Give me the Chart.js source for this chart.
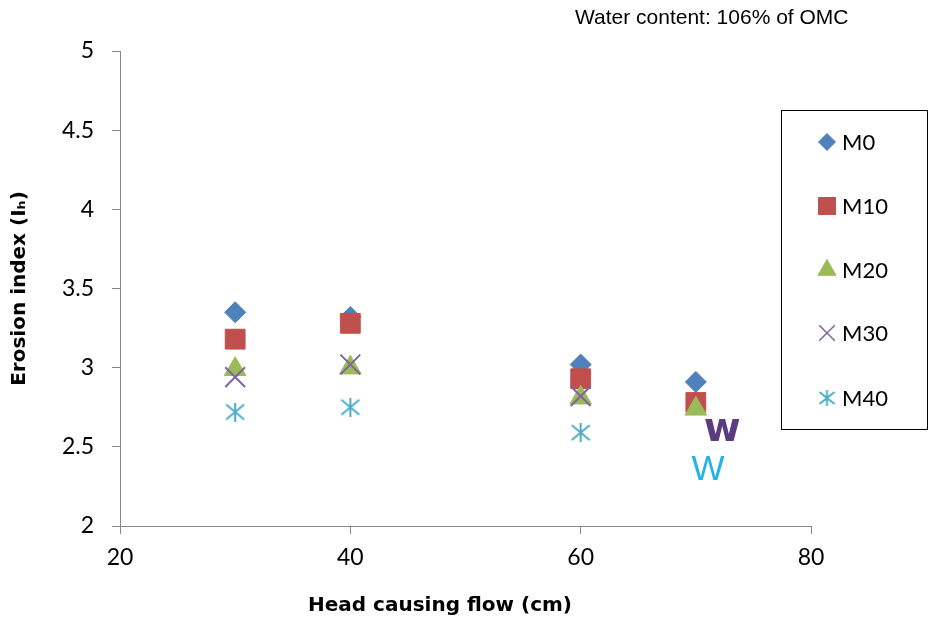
<!DOCTYPE html>
<html>
<head>
<meta charset="utf-8">
<script src="https://cdn.jsdelivr.net/npm/chart.js@4/dist/chart.umd.min.js"></script>
<style>
  html, body { margin: 0; padding: 0; background: #fff; }
  #wrap { width: 932px; height: 624px; }
</style>
</head>
<body>
<div id="wrap"><canvas id="erosaoChart" width="932" height="624"></canvas></div>
<script>
// dados
const headFlow = [30, 40, 60, 70];
const m0 = [3.35, 3.32, 3.02, 2.91];
const m10 = [3.18, 3.28, 2.93, 2.78];
const m20 = [2.99, 3.0, 2.81, 2.74];
const m30 = [2.94, 3.02, 2.82];
const m40 = [2.72, 2.75, 2.59];
const seriesNames = ['M0', 'M10', 'M20', 'M30', 'M40'];
const xTicks = [20, 40, 60, 80];
const yTicks = [2, 2.5, 3, 3.5, 4, 4.5, 5];
// os dois "W" soltos que aparecem no original
const wGlyphX = [72.3, 71.05];
const wGlyphY = [2.59, 2.36];
const wGlyphText = ['w', 'W'];

const cores = ['#4f81bd', '#c0504d', '#9bbb59', '#8064a2', '#4bacc6'];

// asterisco (linha vertical + X), igual ao marcador do Excel
function makeStar(w, h, color) {
    const c = document.createElement('canvas');
    c.width = w; c.height = h;
    const g = c.getContext('2d');
    g.strokeStyle = color;
    g.lineWidth = 2;
    g.beginPath();
    g.moveTo(w / 2, 0); g.lineTo(w / 2, h);
    g.moveTo(1, 2); g.lineTo(w - 1, h - 2);
    g.moveTo(w - 1, 2); g.lineTo(1, h - 2);
    g.stroke();
    return c;
}
const starBig = makeStar(20, 19, cores[4]);
const starSmall = makeStar(17, 16, cores[4]);

const estilos = [
    { pointStyle: 'rectRot', radius: 10.5, borderWidth: 1 },
    { pointStyle: 'rect', radius: 14, borderWidth: 1 },
    { pointStyle: 'triangle', radius: 12.5, borderWidth: 1 },
    { pointStyle: 'crossRot', radius: 14, borderWidth: 2 },
    { pointStyle: starBig, radius: 10, borderWidth: 1 }
];
const estilosLegenda = [
    { pointStyle: 'rectRot', radius: 8.5, borderWidth: 1 },
    { pointStyle: 'rect', radius: 12, borderWidth: 1 },
    { pointStyle: 'triangle', radius: 10.5, borderWidth: 1 },
    { pointStyle: 'crossRot', radius: 11, borderWidth: 1.5 },
    { pointStyle: starSmall, radius: 8, borderWidth: 1 }
];

const valores = [m0, m10, m20, m30, m40];
const datasets = valores.map((vals, i) => ({
    label: seriesNames[i],
    data: vals.map((v, k) => ({ x: headFlow[k], y: v })),
    backgroundColor: cores[i],
    borderColor: cores[i],
    pointStyle: estilos[i].pointStyle,
    pointRadius: estilos[i].radius,
    pointBorderWidth: estilos[i].borderWidth,
    order: 5 - i
}));

// legenda em caixa, títulos e os "W"
const extrasPlugin = {
    id: 'extras',
    afterDraw(chart) {
        const ctx = chart.ctx;
        const xs = chart.scales.x;
        const ys = chart.scales.y;
        ctx.save();

        // "W" soltos
        ctx.textAlign = 'center';
        ctx.textBaseline = 'middle';
        ctx.fillStyle = '#5b3c80';
        ctx.font = 'bold 40px "DejaVu Sans"';
        ctx.fillText(wGlyphText[0], xs.getPixelForValue(wGlyphX[0]), ys.getPixelForValue(wGlyphY[0]) - 2);
        ctx.fillStyle = '#22b3ea';
        ctx.font = '35px "Liberation Sans"';
        ctx.fillText(wGlyphText[1], xs.getPixelForValue(wGlyphX[1]), ys.getPixelForValue(wGlyphY[1]) + 1);

        // título do eixo x (no original fica deslocado para a esquerda)
        ctx.fillStyle = '#000';
        ctx.font = 'bold 20px "DejaVu Sans"';
        ctx.fillText('Head causing flow (cm)', 440, 606);

        // título
        ctx.textAlign = 'left';
        ctx.font = '21px "Liberation Sans"';
        ctx.fillText('Water content: 106% of OMC', 575, 18);

        // caixa da legenda
        ctx.strokeStyle = '#000';
        ctx.lineWidth = 1;
        ctx.strokeRect(781.5, 110.5, 146, 319);
        const linhas = [142, 206, 270, 333, 398];
        ctx.font = '22px Lato';
        seriesNames.forEach((nome, i) => {
            ctx.fillStyle = cores[i];
            ctx.strokeStyle = cores[i];
            ctx.lineWidth = estilosLegenda[i].borderWidth;
            Chart.helpers.drawPoint(ctx, {
                pointStyle: estilosLegenda[i].pointStyle,
                radius: estilosLegenda[i].radius,
                rotation: 0,
                borderWidth: estilosLegenda[i].borderWidth
            }, 827, linhas[i]);
            ctx.fillStyle = '#000';
            ctx.fillText(nome, 842, linhas[i] + 1);
        });
        ctx.restore();
    }
};

const ctx = document.getElementById('erosaoChart').getContext('2d');
new Chart(ctx, {
    type: 'scatter',
    data: { datasets: datasets },
    options: {
        responsive: false,
        animation: false,
        layout: { padding: { left: 0, top: 51, right: 121, bottom: 0 } },
        plugins: {
            legend: { display: false },
            tooltip: { enabled: false }
        },
        scales: {
            x: {
                type: 'linear',
                min: 20,
                max: 80,
                afterFit: (scale) => { scale.height = 98; },
                afterBuildTicks: (scale) => { scale.ticks = xTicks.map(v => ({ value: v })); },
                ticks: {
                    color: '#000',
                    font: { family: 'Lato', size: 23 },
                    padding: 10,
                    maxRotation: 0
                },
                grid: { drawOnChartArea: false, color: '#868686', tickLength: 8 },
                border: { color: '#868686', width: 1 }
            },
            y: {
                type: 'linear',
                min: 2,
                max: 5,
                afterFit: (scale) => { scale.width = 120; },
                afterBuildTicks: (scale) => { scale.ticks = yTicks.map(v => ({ value: v })); },
                ticks: {
                    color: '#000',
                    font: { family: 'Lato', size: 23 },
                    padding: 18,
                    callback: (v) => String(v)
                },
                grid: { drawOnChartArea: false, color: '#868686', tickLength: 8 },
                border: { color: '#868686', width: 1 },
                title: {
                    display: true,
                    text: 'Erosion index (Iₕ)',
                    color: '#000',
                    font: { family: 'DejaVu Sans', size: 20, weight: 'bold' },
                    padding: { top: 8, bottom: 0 }
                }
            }
        }
    },
    plugins: [extrasPlugin]
});
</script>
</body>
</html>
